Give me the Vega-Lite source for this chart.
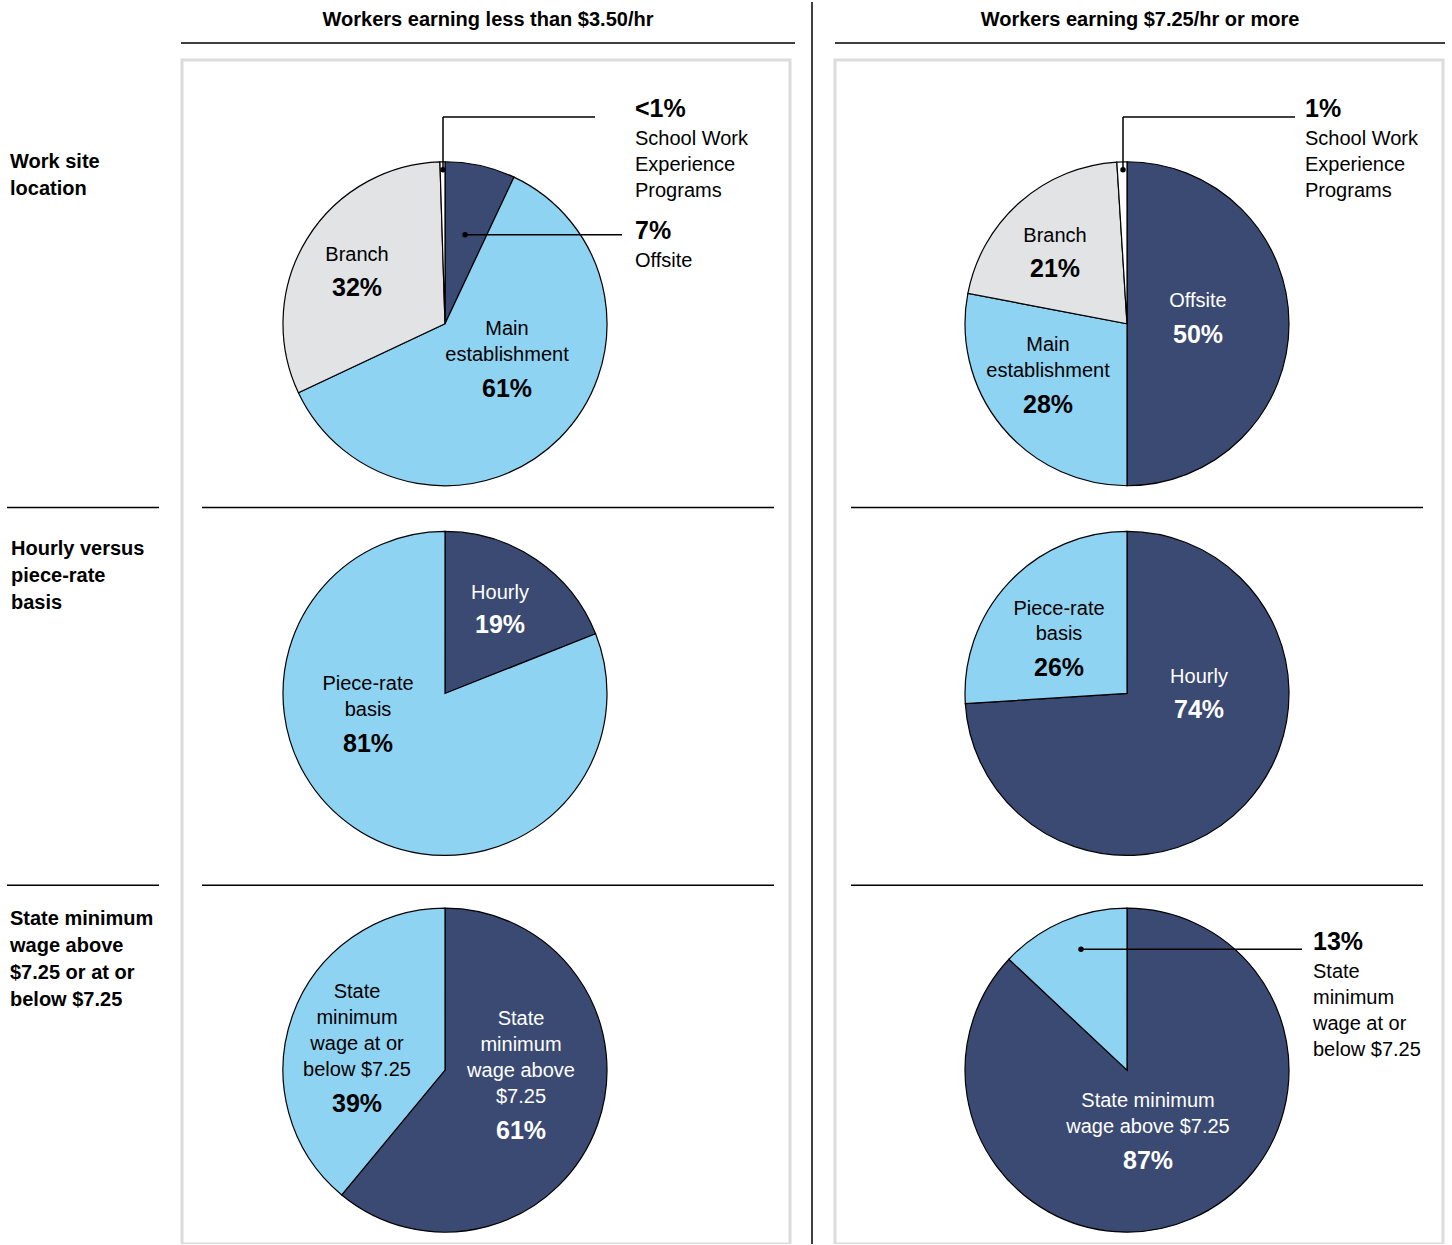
{
  "$schema": "https://vega.github.io/schema/vega-lite/v6.json",
  "width": 1452,
  "height": 1245,
  "padding": 0,
  "autosize": {"type": "fit", "contains": "padding"},
  "background": "white",
  "config": {"view": {"stroke": null}, "font": "Liberation Sans"},
  "resolve": {"scale": {"color": "independent"}},
  "datasets": {
    "slices": [
      {"pie": "L1", "cx": 445, "cy": 324, "part": "Offsite", "start": 0, "end": 7, "kind": "dark"},
      {"pie": "L1", "cx": 445, "cy": 324, "part": "Main establishment", "start": 7, "end": 68, "kind": "light"},
      {"pie": "L1", "cx": 445, "cy": 324, "part": "Branch", "start": 68, "end": 99.5, "kind": "gray"},
      {"pie": "L1", "cx": 445, "cy": 324, "part": "School", "start": 99.5, "end": 100, "kind": "white"},
      {"pie": "R1", "cx": 1127, "cy": 324, "part": "Offsite", "start": 0, "end": 50, "kind": "dark"},
      {"pie": "R1", "cx": 1127, "cy": 324, "part": "Main establishment", "start": 50, "end": 78, "kind": "light"},
      {"pie": "R1", "cx": 1127, "cy": 324, "part": "Branch", "start": 78, "end": 99, "kind": "gray"},
      {"pie": "R1", "cx": 1127, "cy": 324, "part": "School", "start": 99, "end": 100, "kind": "white"},
      {"pie": "L2", "cx": 445, "cy": 694, "part": "Hourly", "start": 0, "end": 19, "kind": "dark"},
      {"pie": "L2", "cx": 445, "cy": 694, "part": "Piece-rate", "start": 19, "end": 100, "kind": "light"},
      {"pie": "R2", "cx": 1127, "cy": 694, "part": "Hourly", "start": 0, "end": 74, "kind": "dark"},
      {"pie": "R2", "cx": 1127, "cy": 694, "part": "Piece-rate", "start": 74, "end": 100, "kind": "light"},
      {"pie": "L3", "cx": 445, "cy": 1071, "part": "Above", "start": 0, "end": 61, "kind": "dark"},
      {"pie": "L3", "cx": 445, "cy": 1071, "part": "At or below", "start": 61, "end": 100, "kind": "light"},
      {"pie": "R3", "cx": 1127, "cy": 1071, "part": "Above", "start": 0, "end": 87, "kind": "dark"},
      {"pie": "R3", "cx": 1127, "cy": 1071, "part": "At or below", "start": 87, "end": 100, "kind": "light"}
    ],
    "labels": [
      {"x": 357, "y": 255, "t": "Branch", "bg": "light"},
      {"x": 507, "y": 329, "t": "Main", "bg": "light"},
      {"x": 507, "y": 355, "t": "establishment", "bg": "light"},
      {"x": 1055, "y": 236, "t": "Branch", "bg": "light"},
      {"x": 1198, "y": 301, "t": "Offsite", "bg": "dark"},
      {"x": 1048, "y": 345, "t": "Main", "bg": "light"},
      {"x": 1048, "y": 371, "t": "establishment", "bg": "light"},
      {"x": 500, "y": 593, "t": "Hourly", "bg": "dark"},
      {"x": 368, "y": 685, "t": "Piece-rate", "bg": "light"},
      {"x": 368, "y": 711, "t": "basis", "bg": "light"},
      {"x": 1059, "y": 609, "t": "Piece-rate", "bg": "light"},
      {"x": 1059, "y": 635, "t": "basis", "bg": "light"},
      {"x": 1199, "y": 678, "t": "Hourly", "bg": "dark"},
      {"x": 357, "y": 993, "t": "State", "bg": "light"},
      {"x": 357, "y": 1019, "t": "minimum", "bg": "light"},
      {"x": 357, "y": 1045, "t": "wage at or", "bg": "light"},
      {"x": 357, "y": 1071, "t": "below $7.25", "bg": "light"},
      {"x": 521, "y": 1020, "t": "State", "bg": "dark"},
      {"x": 521, "y": 1046, "t": "minimum", "bg": "dark"},
      {"x": 521, "y": 1072, "t": "wage above", "bg": "dark"},
      {"x": 521, "y": 1098, "t": "$7.25", "bg": "dark"},
      {"x": 1148, "y": 1102, "t": "State minimum", "bg": "dark"},
      {"x": 1148, "y": 1128, "t": "wage above $7.25", "bg": "dark"}
    ],
    "pcts": [
      {"x": 357, "y": 288, "t": "32%", "bg": "light"},
      {"x": 507, "y": 389, "t": "61%", "bg": "light"},
      {"x": 1055, "y": 269, "t": "21%", "bg": "light"},
      {"x": 1198, "y": 335, "t": "50%", "bg": "dark"},
      {"x": 1048, "y": 405, "t": "28%", "bg": "light"},
      {"x": 500, "y": 626, "t": "19%", "bg": "dark"},
      {"x": 368, "y": 745, "t": "81%", "bg": "light"},
      {"x": 1059, "y": 669, "t": "26%", "bg": "light"},
      {"x": 1199, "y": 711, "t": "74%", "bg": "dark"},
      {"x": 357, "y": 1105, "t": "39%", "bg": "light"},
      {"x": 521, "y": 1132, "t": "61%", "bg": "dark"},
      {"x": 1148, "y": 1162, "t": "87%", "bg": "dark"}
    ],
    "callouts": [
      {"x": 635, "y": 139, "t": "School Work"},
      {"x": 635, "y": 165, "t": "Experience"},
      {"x": 635, "y": 191, "t": "Programs"},
      {"x": 635, "y": 261, "t": "Offsite"},
      {"x": 1305, "y": 139, "t": "School Work"},
      {"x": 1305, "y": 165, "t": "Experience"},
      {"x": 1305, "y": 191, "t": "Programs"},
      {"x": 1313, "y": 973, "t": "State"},
      {"x": 1313, "y": 999, "t": "minimum"},
      {"x": 1313, "y": 1025, "t": "wage at or"},
      {"x": 1313, "y": 1051, "t": "below $7.25"}
    ],
    "calloutPcts": [
      {"x": 635, "y": 109, "t": "<1%"},
      {"x": 635, "y": 231, "t": "7%"},
      {"x": 1305, "y": 109, "t": "1%"},
      {"x": 1313, "y": 943, "t": "13%"}
    ],
    "rowLabels": [
      {"x": 10, "y": 162, "t": "Work site"},
      {"x": 10, "y": 189, "t": "location"},
      {"x": 11, "y": 549, "t": "Hourly versus"},
      {"x": 11, "y": 576, "t": "piece-rate"},
      {"x": 11, "y": 603, "t": "basis"},
      {"x": 10, "y": 920, "t": "State minimum"},
      {"x": 10, "y": 947, "t": "wage above"},
      {"x": 10, "y": 974, "t": "$7.25 or at or"},
      {"x": 10, "y": 1001, "t": "below $7.25"}
    ],
    "headers": [
      {"x": 488, "y": 20, "t": "Workers earning less than $3.50/hr"},
      {"x": 1140, "y": 20, "t": "Workers earning $7.25/hr or more"}
    ],
    "boxes": [
      {"x": 182, "x2": 790, "y": 60, "y2": 1245},
      {"x": 835, "x2": 1443, "y": 60, "y2": 1245}
    ],
    "rules": [
      {"x": 181, "x2": 795, "y": 43, "y2": 43},
      {"x": 835, "x2": 1445, "y": 43, "y2": 43},
      {"x": 7, "x2": 159, "y": 508, "y2": 508},
      {"x": 202, "x2": 774, "y": 508, "y2": 508},
      {"x": 851, "x2": 1423, "y": 508, "y2": 508},
      {"x": 7, "x2": 159, "y": 886, "y2": 886},
      {"x": 202, "x2": 774, "y": 886, "y2": 886},
      {"x": 851, "x2": 1423, "y": 886, "y2": 886},
      {"x": 812, "x2": 812, "y": 2, "y2": 1245},
      {"x": 443, "x2": 443, "y": 170, "y2": 117},
      {"x": 443, "x2": 595, "y": 117, "y2": 117},
      {"x": 465, "x2": 622, "y": 235, "y2": 235},
      {"x": 1123, "x2": 1123, "y": 170, "y2": 117},
      {"x": 1123, "x2": 1295, "y": 117, "y2": 117},
      {"x": 1081, "x2": 1302, "y": 950, "y2": 950}
    ],
    "dots": [
      {"x": 443, "y": 170},
      {"x": 465, "y": 235},
      {"x": 1123, "y": 170},
      {"x": 1081, "y": 950}
    ]
  },
  "encoding": {
    "x": {"field": "x", "type": "quantitative", "scale": {"domain": [0, 1452], "nice": false, "zero": false}, "axis": null},
    "y": {"field": "y", "type": "quantitative", "scale": {"domain": [1245, 0], "nice": false, "zero": false}, "axis": null}
  },
  "layer": [
    {
      "data": {"name": "boxes"},
      "mark": {"type": "rect", "fill": null, "stroke": "#dcdcdc", "strokeWidth": 3, "clip": true},
      "encoding": {"x2": {"field": "x2"}, "y2": {"field": "y2"}}
    },
    {
      "data": {"name": "slices"},
      "mark": {"type": "arc", "radius": 162, "stroke": "black", "strokeWidth": 1.2},
      "encoding": {
        "x": {"field": "cx", "type": "quantitative"},
        "y": {"field": "cy", "type": "quantitative"},
        "theta": {"field": "start", "type": "quantitative", "scale": {"domain": [0, 100], "range": [0, 6.2832]}},
        "theta2": {"field": "end"},
        "color": {"field": "kind", "type": "nominal", "legend": null,
          "scale": {"domain": ["dark", "light", "gray", "white"], "range": ["#3a4a73", "#8fd3f2", "#e2e3e5", "#ffffff"]}}
      }
    },
    {
      "data": {"name": "rules"},
      "mark": {"type": "rule", "color": "black", "strokeWidth": 1.5},
      "encoding": {"x2": {"field": "x2"}, "y2": {"field": "y2"}}
    },
    {
      "data": {"name": "dots"},
      "mark": {"type": "circle", "color": "black", "size": 30, "opacity": 1}
    },
    {
      "data": {"name": "labels"},
      "mark": {"type": "text", "fontSize": 20, "align": "center", "baseline": "middle"},
      "encoding": {
        "text": {"field": "t"},
        "color": {"field": "bg", "type": "nominal", "legend": null, "scale": {"domain": ["dark", "light"], "range": ["white", "black"]}}
      }
    },
    {
      "data": {"name": "pcts"},
      "mark": {"type": "text", "fontSize": 25, "fontWeight": "bold", "align": "center", "baseline": "middle"},
      "encoding": {
        "text": {"field": "t"},
        "color": {"field": "bg", "type": "nominal", "legend": null, "scale": {"domain": ["dark", "light"], "range": ["white", "black"]}}
      }
    },
    {
      "data": {"name": "callouts"},
      "mark": {"type": "text", "fontSize": 20, "align": "left", "baseline": "middle", "color": "black"},
      "encoding": {"text": {"field": "t"}}
    },
    {
      "data": {"name": "calloutPcts"},
      "mark": {"type": "text", "fontSize": 25, "fontWeight": "bold", "align": "left", "baseline": "middle", "color": "black"},
      "encoding": {"text": {"field": "t"}}
    },
    {
      "data": {"name": "rowLabels"},
      "mark": {"type": "text", "fontSize": 20, "fontWeight": "bold", "align": "left", "baseline": "middle", "color": "black"},
      "encoding": {"text": {"field": "t"}}
    },
    {
      "data": {"name": "headers"},
      "mark": {"type": "text", "fontSize": 20, "fontWeight": "bold", "align": "center", "baseline": "middle", "color": "black"},
      "encoding": {"text": {"field": "t"}}
    }
  ]
}
